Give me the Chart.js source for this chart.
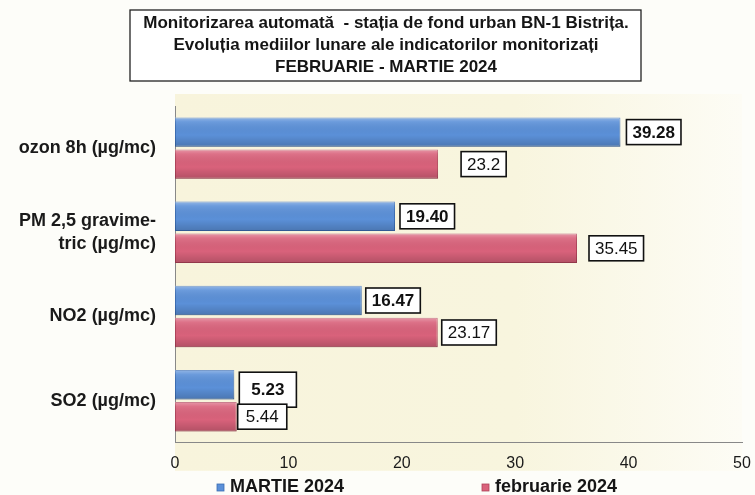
<!DOCTYPE html>
<html>
<head>
<meta charset="utf-8">
<script src="https://cdn.jsdelivr.net/npm/chart.js@4.4.1/dist/chart.umd.min.js"></script>
<style>
  html, body { margin: 0; padding: 0; background: #fdfdf9; }
  #wrap { width: 755px; height: 495px; }
</style>
</head>
<body>
<div id="wrap"><canvas id="c" width="755" height="495"></canvas></div>
<script>
const titleLines = [
  "Monitorizarea automată  - stația de fond urban BN-1 Bistrița.",
  "Evoluția mediilor lunare ale indicatorilor monitorizați",
  "FEBRUARIE - MARTIE 2024"
];
const categories = [
  "ozon 8h (µg/mc)",
  ["PM 2,5 gravime-", "tric (µg/mc)"],
  "NO2 (µg/mc)",
  "SO2 (µg/mc)"
];
const seriesNames = ["MARTIE 2024", "februarie 2024"];
const martie2024 = [39.28, 19.40, 16.47, 5.23];
const februarie2024 = [23.2, 35.45, 23.17, 5.44];
const valueLabelsMartie = ["39.28", "19.40", "16.47", "5.23"];
const valueLabelsFebruarie = ["23.2", "35.45", "23.17", "5.44"];
const xTicks = [0, 10, 20, 30, 40, 50];

const FONT = "'Liberation Sans', Arial, sans-serif";

const bgPlugin = {
  id: 'bg',
  beforeDraw(chart) {
    const ctx = chart.ctx, a = chart.chartArea;
    ctx.save();
    const g = ctx.createLinearGradient(a.left, 0, a.right, 0);
    g.addColorStop(0, '#f8f4dc');
    g.addColorStop(0.6, '#f8f5de');
    g.addColorStop(1, '#fdfcf5');
    ctx.fillStyle = g;
    ctx.fillRect(a.left, a.top - 12, a.right - a.left, a.bottom - a.top + 40);
    ctx.restore();
  }
};

const barShade = {
  id: 'barShade',
  afterDatasetsDraw(chart) {
    const ctx = chart.ctx;
    ctx.save();
    chart.data.datasets.forEach((ds, i) => {
      chart.getDatasetMeta(i).data.forEach(el => {
        const top = el.y - el.height / 2, h = el.height;
        const left = Math.min(el.x, el.base), w = Math.abs(el.x - el.base);
        const g = ctx.createLinearGradient(0, top, 0, top + h);
        g.addColorStop(0, 'rgba(255,255,255,0.35)');
        g.addColorStop(0.15, 'rgba(255,255,255,0.10)');
        g.addColorStop(0.6, 'rgba(0,0,0,0)');
        g.addColorStop(1, 'rgba(0,0,0,0.18)');
        ctx.fillStyle = g;
        ctx.fillRect(left, top, w, h);
      });
    });
    ctx.restore();
  }
};

const valueBoxes = {
  id: 'valueBoxes',
  afterDatasetsDraw(chart, args, opts) {
    const ctx = chart.ctx;
    ctx.save();
    chart.data.datasets.forEach((ds, i) => {
      const labels = i === 0 ? valueLabelsMartie : valueLabelsFebruarie;
      const offs = opts.offsets[i];
      const dys = opts.dy[i];
      const extraH = opts.extraH[i];
      const extraW = opts.extraW[i];
      chart.getDatasetMeta(i).data.forEach((el, j) => {
        const txt = labels[j];
        ctx.font = (i === 0 ? 'bold ' : '') + '17px ' + FONT;
        const tw = ctx.measureText(txt).width;
        const w = tw + 12 + extraW[j], h = 25 + extraH[j];
        const x = el.x + offs[j];
        const cy = el.y + dys[j];
        ctx.fillStyle = '#ffffff';
        ctx.fillRect(x, cy - h / 2, w, h);
        ctx.strokeStyle = '#111';
        ctx.lineWidth = 1.6;
        ctx.strokeRect(x, cy - h / 2, w, h);
        ctx.fillStyle = '#111';
        ctx.textAlign = 'center';
        ctx.textBaseline = 'middle';
        ctx.fillText(txt, x + w / 2, cy + 1);
      });
    });
    ctx.restore();
  }
};

const titleBox = {
  id: 'titleBox',
  afterDraw(chart) {
    const ctx = chart.ctx;
    ctx.save();
    ctx.fillStyle = '#ffffff';
    ctx.fillRect(130, 10, 511, 71);
    ctx.strokeStyle = '#222';
    ctx.lineWidth = 1.3;
    ctx.strokeRect(130, 10, 511, 71);
    ctx.fillStyle = '#151515';
    ctx.font = 'bold 17px ' + FONT;
    ctx.textAlign = 'center';
    ctx.textBaseline = 'middle';
    titleLines.forEach((t, k) => ctx.fillText(t, 386, 23 + k * 22));
    ctx.restore();
  }
};

const customLegend = {
  id: 'customLegend',
  afterDraw(chart) {
    const ctx = chart.ctx;
    const xs = [217, 482];
    ctx.save();
    ctx.font = 'bold 18px ' + FONT;
    ctx.textBaseline = 'middle';
    ctx.textAlign = 'left';
    chart.data.datasets.forEach((ds, i) => {
      ctx.fillStyle = ds.backgroundColor;
      ctx.fillRect(xs[i], 484, 7, 7);
      ctx.strokeStyle = ds.borderColor;
      ctx.lineWidth = 0.8;
      ctx.strokeRect(xs[i], 484, 7, 7);
      ctx.fillStyle = '#151515';
      ctx.fillText(ds.label, xs[i] + 13, 487);
    });
    ctx.restore();
  }
};

new Chart(document.getElementById('c'), {
  type: 'bar',
  data: {
    labels: categories,
    datasets: [
      {
        label: seriesNames[0],
        data: martie2024,
        backgroundColor: '#5b90d8',
        borderColor: '#3b6db3',
        borderWidth: 1,
        borderSkipped: false,
        categoryPercentage: 0.76,
        barPercentage: 0.92
      },
      {
        label: seriesNames[1],
        data: februarie2024,
        backgroundColor: '#d9627b',
        borderColor: '#b0435a',
        borderWidth: 1,
        borderSkipped: false,
        categoryPercentage: 0.76,
        barPercentage: 0.92
      }
    ]
  },
  options: {
    indexAxis: 'y',
    responsive: false,
    animation: false,
    layout: { padding: { top: 106, right: 13, bottom: 11, left: 8 } },
    scales: {
      x: {
        min: 0, max: 50,
        afterBuildTicks(axis) { axis.ticks = xTicks.map(v => ({ value: v })); },
        afterFit(axis) { axis.paddingRight = 0; axis.paddingLeft = 0; },
        grid: { display: false, drawTicks: false },
        border: { display: true, color: '#888', width: 1, dash: [2, 1] },
        ticks: { color: '#1a1a1a', font: { family: FONT, size: 16 }, padding: 11 }
      },
      y: {
        grid: { display: false, drawTicks: false },
        border: { display: true, color: '#888', width: 1, dash: [2, 1] },
        ticks: { color: '#1a1a1a', font: { family: FONT, size: 18, weight: 'bold', lineHeight: 1.25 }, padding: 19 },
        afterFit(axis) { axis.width = 167; }
      }
    },
    plugins: {
      legend: { display: false },
      title: { display: false },
      tooltip: { enabled: false },
      valueBoxes: {
        offsets: [[6, 5, 4, 5], [23, 12, 4, 1]],
        dy: [[0, 0, 0, 5], [0, 0, 0, 0]],
        extraH: [[0, 0, 0, 10], [0, 0, 0, 0]],
        extraW: [[0, 0, 0, 12], [0, 0, 0, 4]]
      }
    }
  },
  plugins: [bgPlugin, barShade, valueBoxes, titleBox, customLegend]
});
</script>
</body>
</html>
